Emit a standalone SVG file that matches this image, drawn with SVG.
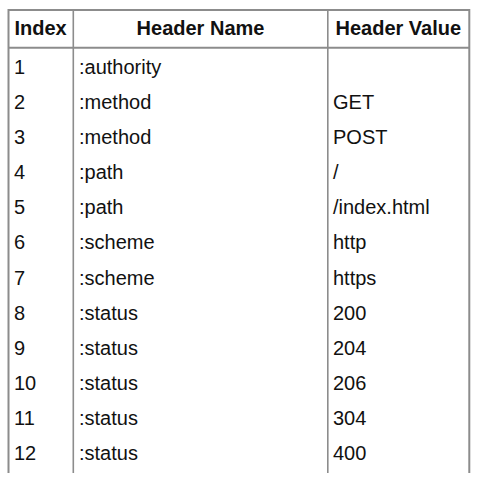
<svg xmlns="http://www.w3.org/2000/svg" width="479" height="488" viewBox="0 0 479 488">
<style>
.g{stroke:#8c8c8c;fill:none}
.h{font-family:"Liberation Sans",Arial,sans-serif;font-size:20px;font-weight:bold;fill:#111}
.t{font-family:"Liberation Sans",Arial,sans-serif;font-size:20px;fill:#111}
</style>
<rect width="479" height="488" fill="#fff"/>
<g id="grid">
<path class="g" stroke-width="2" d="M8.5,473 V10 H469.3 V473"/>
<path class="g" stroke-width="2" d="M8.5,47.7 H469.3"/>
<path class="g" stroke-width="1.6" d="M73.3,10 V473 M327.8,10 V473"/>
</g>
<g id="header">
<text class="h" x="14.5" y="35">Index</text>
<text class="h" x="200.5" y="35" text-anchor="middle">Header Name</text>
<text class="h" x="398.3" y="35" text-anchor="middle">Header Value</text>
</g>
<g id="rows" class="t">
<text class="t" x="14" y="73.6">1</text><text class="t" x="79" y="73.6">:authority</text>
<text class="t" x="14" y="108.7">2</text><text class="t" x="79" y="108.7">:method</text><text class="t" x="333" y="108.7">GET</text>
<text class="t" x="14" y="143.9">3</text><text class="t" x="79" y="143.9">:method</text><text class="t" x="333" y="143.9">POST</text>
<text class="t" x="14" y="179">4</text><text class="t" x="79" y="179">:path</text><text class="t" x="333" y="179">/</text>
<text class="t" x="14" y="214.2">5</text><text class="t" x="79" y="214.2">:path</text><text class="t" x="333" y="214.2">/index.html</text>
<text class="t" x="14" y="249.3">6</text><text class="t" x="79" y="249.3">:scheme</text><text class="t" x="333" y="249.3">http</text>
<text class="t" x="14" y="284.5">7</text><text class="t" x="79" y="284.5">:scheme</text><text class="t" x="333" y="284.5">https</text>
<text class="t" x="14" y="319.6">8</text><text class="t" x="79" y="319.6">:status</text><text class="t" x="333" y="319.6">200</text>
<text class="t" x="14" y="354.8">9</text><text class="t" x="79" y="354.8">:status</text><text class="t" x="333" y="354.8">204</text>
<text class="t" x="14" y="389.9">10</text><text class="t" x="79" y="389.9">:status</text><text class="t" x="333" y="389.9">206</text>
<text class="t" x="14" y="425.1">11</text><text class="t" x="79" y="425.1">:status</text><text class="t" x="333" y="425.1">304</text>
<text class="t" x="14" y="460.2">12</text><text class="t" x="79" y="460.2">:status</text><text class="t" x="333" y="460.2">400</text>
</g>
</svg>
